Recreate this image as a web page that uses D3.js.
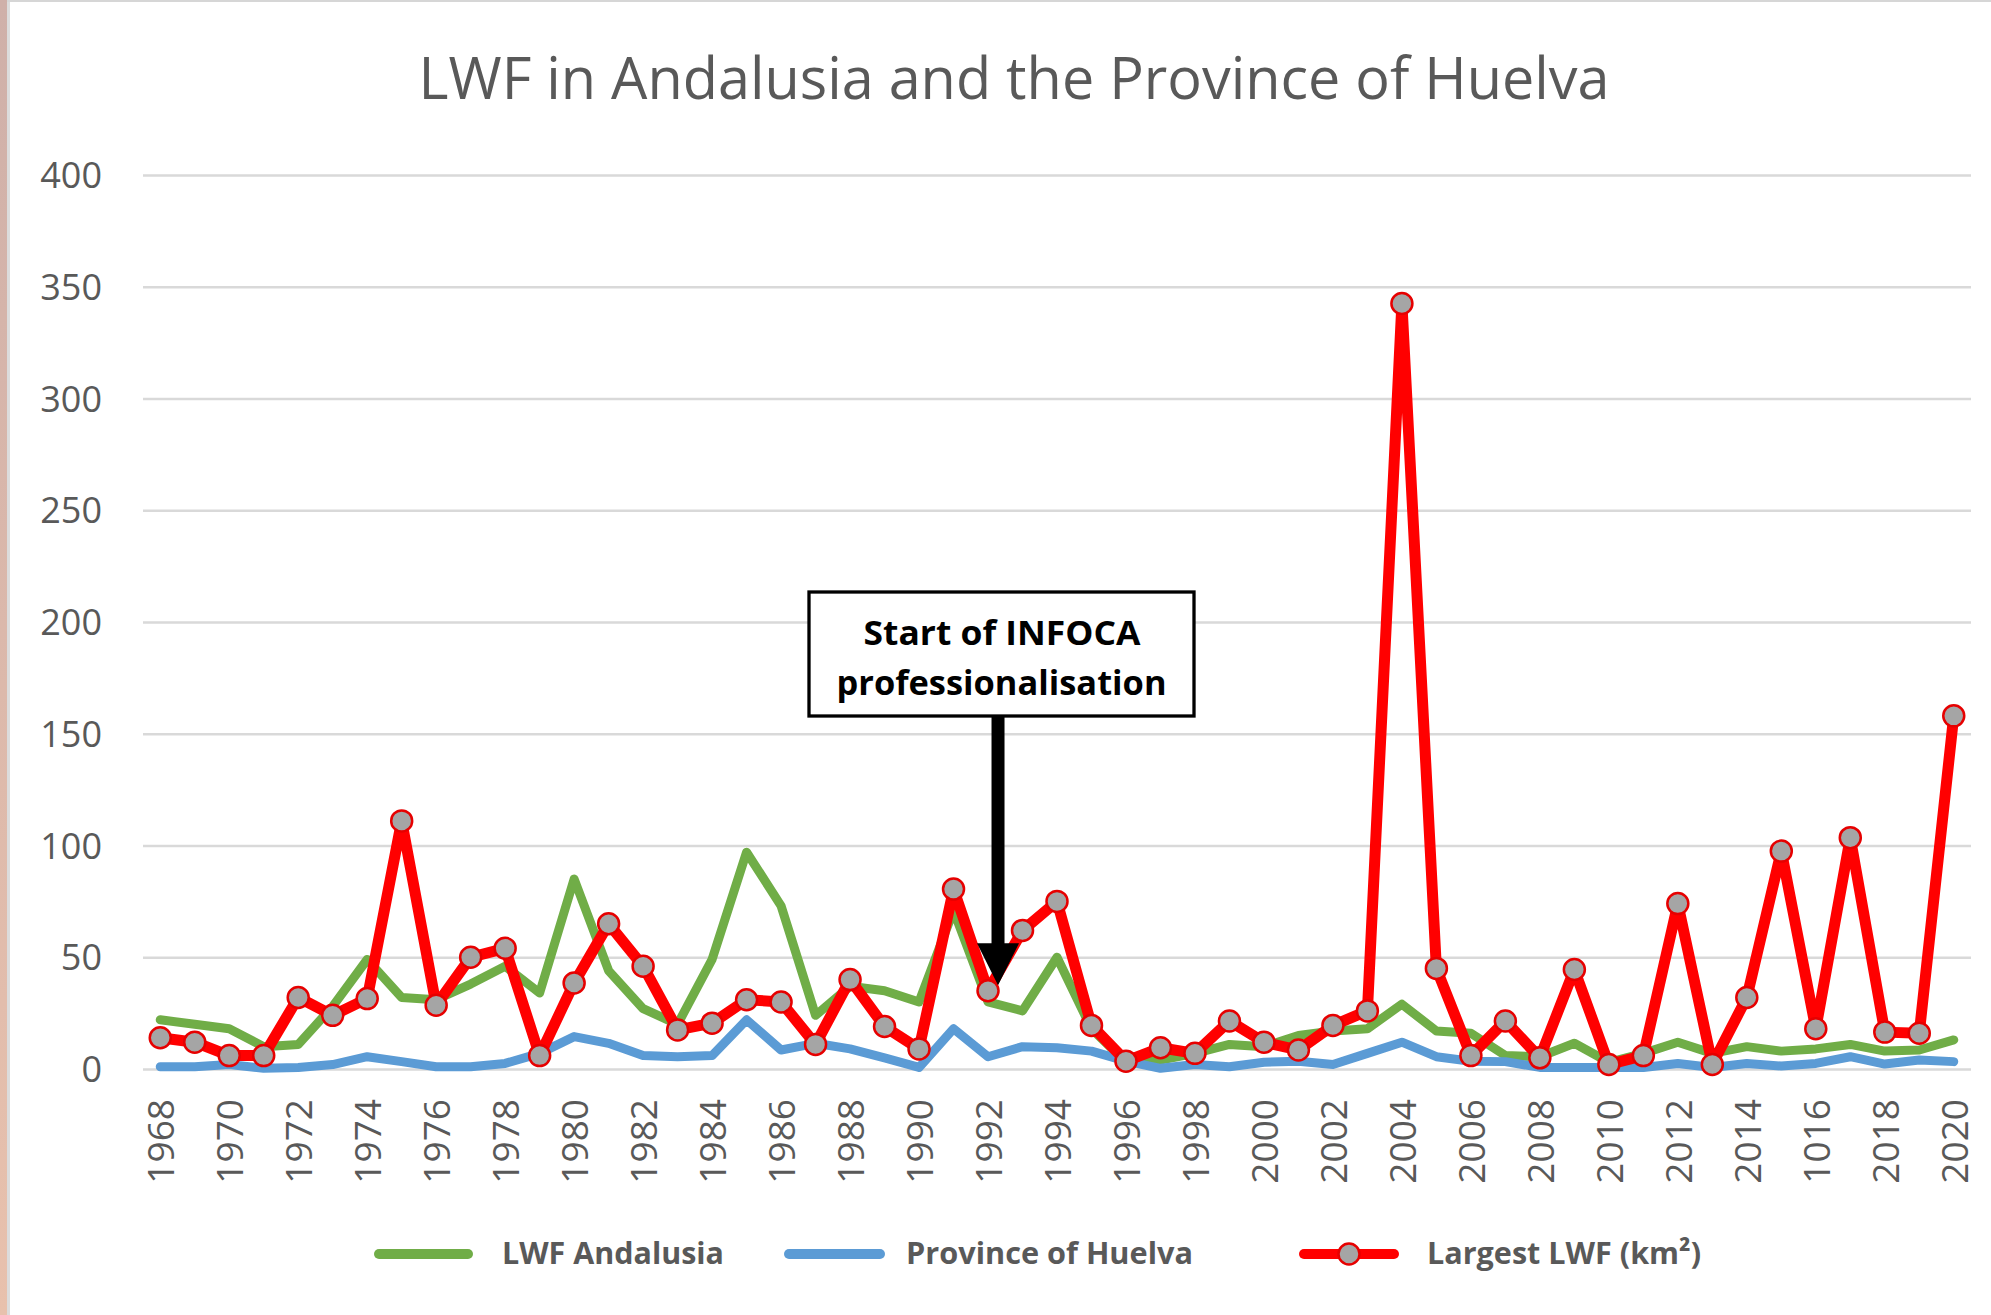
<!DOCTYPE html>
<html>
<head>
<meta charset="utf-8">
<script src="https://cdn.jsdelivr.net/npm/d3@7"></script>
<style>
  html, body { margin: 0; padding: 0; background: #ffffff; }
  svg { display: block; }
</style>
</head>
<body>
<svg id="chart" width="1991" height="1315"></svg>
<script>
// ---------- data ----------
const years = ["1968","1969","1970","1971","1972","1973","1974","1975","1976","1977",
  "1978","1979","1980","1981","1982","1983","1984","1985","1986","1987",
  "1988","1989","1990","1991","1992","1993","1994","1995","1996","1997",
  "1998","1999","2000","2001","2002","2003","2004","2005","2006","2007",
  "2008","2009","2010","2011","2012","2013","2014","2015","2016","2017",
  "2018","2019","2020"];

const lwfAndalusia = [22,20,18,10,11,28,49,32,31,38,
  46,34,85,44,27,20,49,97,73,24,
  37,35,30,71,30,26,50,18,3,4,
  7,11,10,15,17,18,29,17,16,6,
  5.5,11.5,3,7,12,7,10,8,9,11,
  8,8.5,13];

const provinceHuelva = [1,1,2,0.3,0.7,2,5.5,3.3,1,1,
  2.5,7,14.5,11.5,6,5.5,6,22,8.5,11.5,
  9,5,0.7,18,5.5,10,9.5,8,3.5,0.3,
  2,1,3,3.5,2,7,12,5.5,3.5,3.3,
  0.7,0.7,0.7,0.7,2.5,0.7,2.5,1.3,2.5,5.5,
  2.2,4,3.3];

const largestLWF = [14,12,6,6,32,24,31.5,111,28.5,50,
  54,6,38.5,65,46,17.5,20.5,31,30,11,
  40,19,9,80.5,35,62,75,19.5,3.5,9.5,
  7,21.5,12,8.5,19.5,26,342.5,45,6,21.5,
  5,44.5,2,6,74,2,32,97.5,18,103.5,
  16.5,16,158];

// x tick labels as printed in the original (every second year)
const xTickYears = ["1968","1970","1972","1974","1976","1978","1980","1982","1984","1986",
  "1988","1990","1992","1994","1996","1998","2000","2002","2004","2006",
  "2008","2010","2012","2014","2016","2018","2020"];
const xTickLabels = ["1968","1970","1972","1974","1976","1978","1980","1982","1984","1986",
  "1988","1990","1992","1994","1996","1998","2000","2002","2004","2006",
  "2008","2010","2012","2014","1016","2018","2020"];
const yTicks = [0,50,100,150,200,250,300,350,400];

const seriesNames = ["LWF Andalusia","Province of Huelva","Largest LWF (km²)"];
const titleText = "LWF in Andalusia and the Province of Huelva";
const annotationLines = ["Start of INFOCA","professionalisation"];
const annotationYear = "1992";
const annotationTipValue = 37.5;

// ---------- layout ----------
const W = 1991, H = 1315;
const plot = {left: 143, right: 1971, top: 175, bottom: 1069};
const GREEN = "#70ad47", BLUE = "#5b9bd5", RED = "#ff0000", GREYTXT = "#595959";
const FONT = "'Open Sans', 'Noto Sans', sans-serif";

const svg = d3.select("#chart");

// frame decorations
const grad = svg.append("defs").append("linearGradient")
  .attr("id","edge").attr("x1",0).attr("y1",0).attr("x2",0).attr("y2",1);
grad.append("stop").attr("offset","0%").attr("stop-color","#cfb0a9");
grad.append("stop").attr("offset","100%").attr("stop-color","#e8c1ad");
svg.append("rect").attr("x",0).attr("y",0).attr("width",W).attr("height",H).attr("fill","#ffffff");
svg.append("rect").attr("x",0).attr("y",0).attr("width",7).attr("height",H).attr("fill","url(#edge)");
svg.append("rect").attr("x",7).attr("y",0).attr("width",3).attr("height",H).attr("fill","#dcdcdc");
svg.append("rect").attr("x",7).attr("y",0).attr("width",W-7).attr("height",2).attr("fill","#d6d6d6");

// scales
const x = d3.scalePoint().domain(years).range([plot.left, plot.right]).padding(0.5);
const y = d3.scaleLinear().domain([0,400]).range([plot.bottom, plot.top]);

// title
svg.append("text")
  .attr("x", 1014).attr("y", 99)
  .attr("text-anchor","middle")
  .attr("font-family", FONT).attr("font-size", 58)
  .attr("fill", GREYTXT)
  .attr("textLength", 1191).attr("lengthAdjust","spacingAndGlyphs")
  .text(titleText);

// y axis with gridlines
const yAxis = d3.axisLeft(y).tickValues(yTicks)
  .tickSize(-(plot.right - plot.left)).tickPadding(41).tickFormat(d3.format("d"));
const gy = svg.append("g").attr("transform", `translate(${plot.left},0)`).call(yAxis);
gy.select(".domain").remove();
gy.selectAll(".tick line").attr("stroke","#d9d9d9").attr("stroke-width",2.5);
gy.selectAll(".tick text").attr("font-family", FONT).attr("font-size", 36)
  .attr("fill", GREYTXT).attr("dy","0.35em");

// x axis (labels only)
const labelOf = new Map(xTickYears.map((yr,i) => [yr, xTickLabels[i]]));
const xAxis = d3.axisBottom(x).tickValues(xTickYears).tickSize(0)
  .tickFormat(d => labelOf.get(d));
const gx = svg.append("g").attr("transform", `translate(0,${plot.bottom})`).call(xAxis);
gx.select(".domain").remove();
gx.selectAll(".tick text")
  .attr("font-family", FONT).attr("font-size", 37).attr("fill", GREYTXT)
  .attr("text-anchor","end")
  .attr("transform","translate(0,30) rotate(-90)")
  .attr("x", 0).attr("y", 0).attr("dy","0.36em");

// lines
const mkLine = vals => d3.line().x((d,i) => x(years[i])).y(d => y(d))(vals);
svg.append("path").attr("d", mkLine(lwfAndalusia)).attr("fill","none")
  .attr("stroke", GREEN).attr("stroke-width", 9).attr("stroke-linejoin","round").attr("stroke-linecap","round");
svg.append("path").attr("d", mkLine(provinceHuelva)).attr("fill","none")
  .attr("stroke", BLUE).attr("stroke-width", 9).attr("stroke-linejoin","round").attr("stroke-linecap","round");
svg.append("path").attr("d", mkLine(largestLWF)).attr("fill","none")
  .attr("stroke", RED).attr("stroke-width", 11).attr("stroke-linejoin","round").attr("stroke-linecap","round");
svg.append("g").selectAll("circle").data(largestLWF).join("circle")
  .attr("cx", (d,i) => x(years[i])).attr("cy", d => y(d)).attr("r", 10.5)
  .attr("fill","#a5a5a5").attr("stroke","#e60000").attr("stroke-width",2.5);

// annotation: box + arrow
const ax = x(annotationYear) + 10;
const tipY = y(annotationTipValue);
const boxL = 809, boxR = 1194, boxT = 592, boxB = 716;
const shaftW = 13, headW = 42, headH = 42;
svg.append("path")
  .attr("d", `M${ax-shaftW/2},${boxB} L${ax+shaftW/2},${boxB} L${ax+shaftW/2},${tipY-headH} ` +
             `L${ax+headW/2},${tipY-headH} L${ax},${tipY} L${ax-headW/2},${tipY-headH} ` +
             `L${ax-shaftW/2},${tipY-headH} Z`)
  .attr("fill","#000000");
svg.append("rect").attr("x", boxL).attr("y", boxT).attr("width", boxR-boxL).attr("height", boxB-boxT)
  .attr("fill","#ffffff").attr("stroke","#000000").attr("stroke-width",3.3);
svg.append("text").attr("x", (boxL+boxR)/2+0.5).attr("y", 645)
  .attr("text-anchor","middle").attr("font-family", FONT).attr("font-weight",700)
  .attr("font-size", 34).attr("fill","#000000")
  .attr("textLength", 277).attr("lengthAdjust","spacingAndGlyphs")
  .text(annotationLines[0]);
svg.append("text").attr("x", (boxL+boxR)/2).attr("y", 695)
  .attr("text-anchor","middle").attr("font-family", FONT).attr("font-weight",700)
  .attr("font-size", 34).attr("fill","#000000")
  .attr("textLength", 330).attr("lengthAdjust","spacingAndGlyphs")
  .text(annotationLines[1]);

// legend
const legendY = 1254;
const legendItems = [
  {name: seriesNames[0], color: GREEN, x0: 374, x1: 473, tx: 502, tw: 222, marker: false},
  {name: seriesNames[1], color: BLUE,  x0: 784, x1: 885, tx: 906, tw: 287, marker: false},
  {name: seriesNames[2], color: RED,   x0: 1299, x1: 1399, tx: 1427, tw: 274, marker: true}
];
const lg = svg.append("g");
legendItems.forEach(it => {
  lg.append("line").attr("x1", it.x0+5).attr("x2", it.x1-5).attr("y1", legendY).attr("y2", legendY)
    .attr("stroke", it.color).attr("stroke-width", 10).attr("stroke-linecap","round");
  if (it.marker) {
    lg.append("circle").attr("cx", (it.x0+it.x1)/2).attr("cy", legendY).attr("r", 10.5)
      .attr("fill","#a5a5a5").attr("stroke","#e60000").attr("stroke-width",2.5);
  }
  const t = lg.append("text").attr("x", it.tx).attr("y", legendY + 10)
    .attr("font-family", FONT).attr("font-weight",700).attr("font-size", 31)
    .attr("fill", GREYTXT)
    .attr("textLength", it.tw).attr("lengthAdjust","spacingAndGlyphs");
  t.text(it.name);
});
</script>
</body>
</html>
